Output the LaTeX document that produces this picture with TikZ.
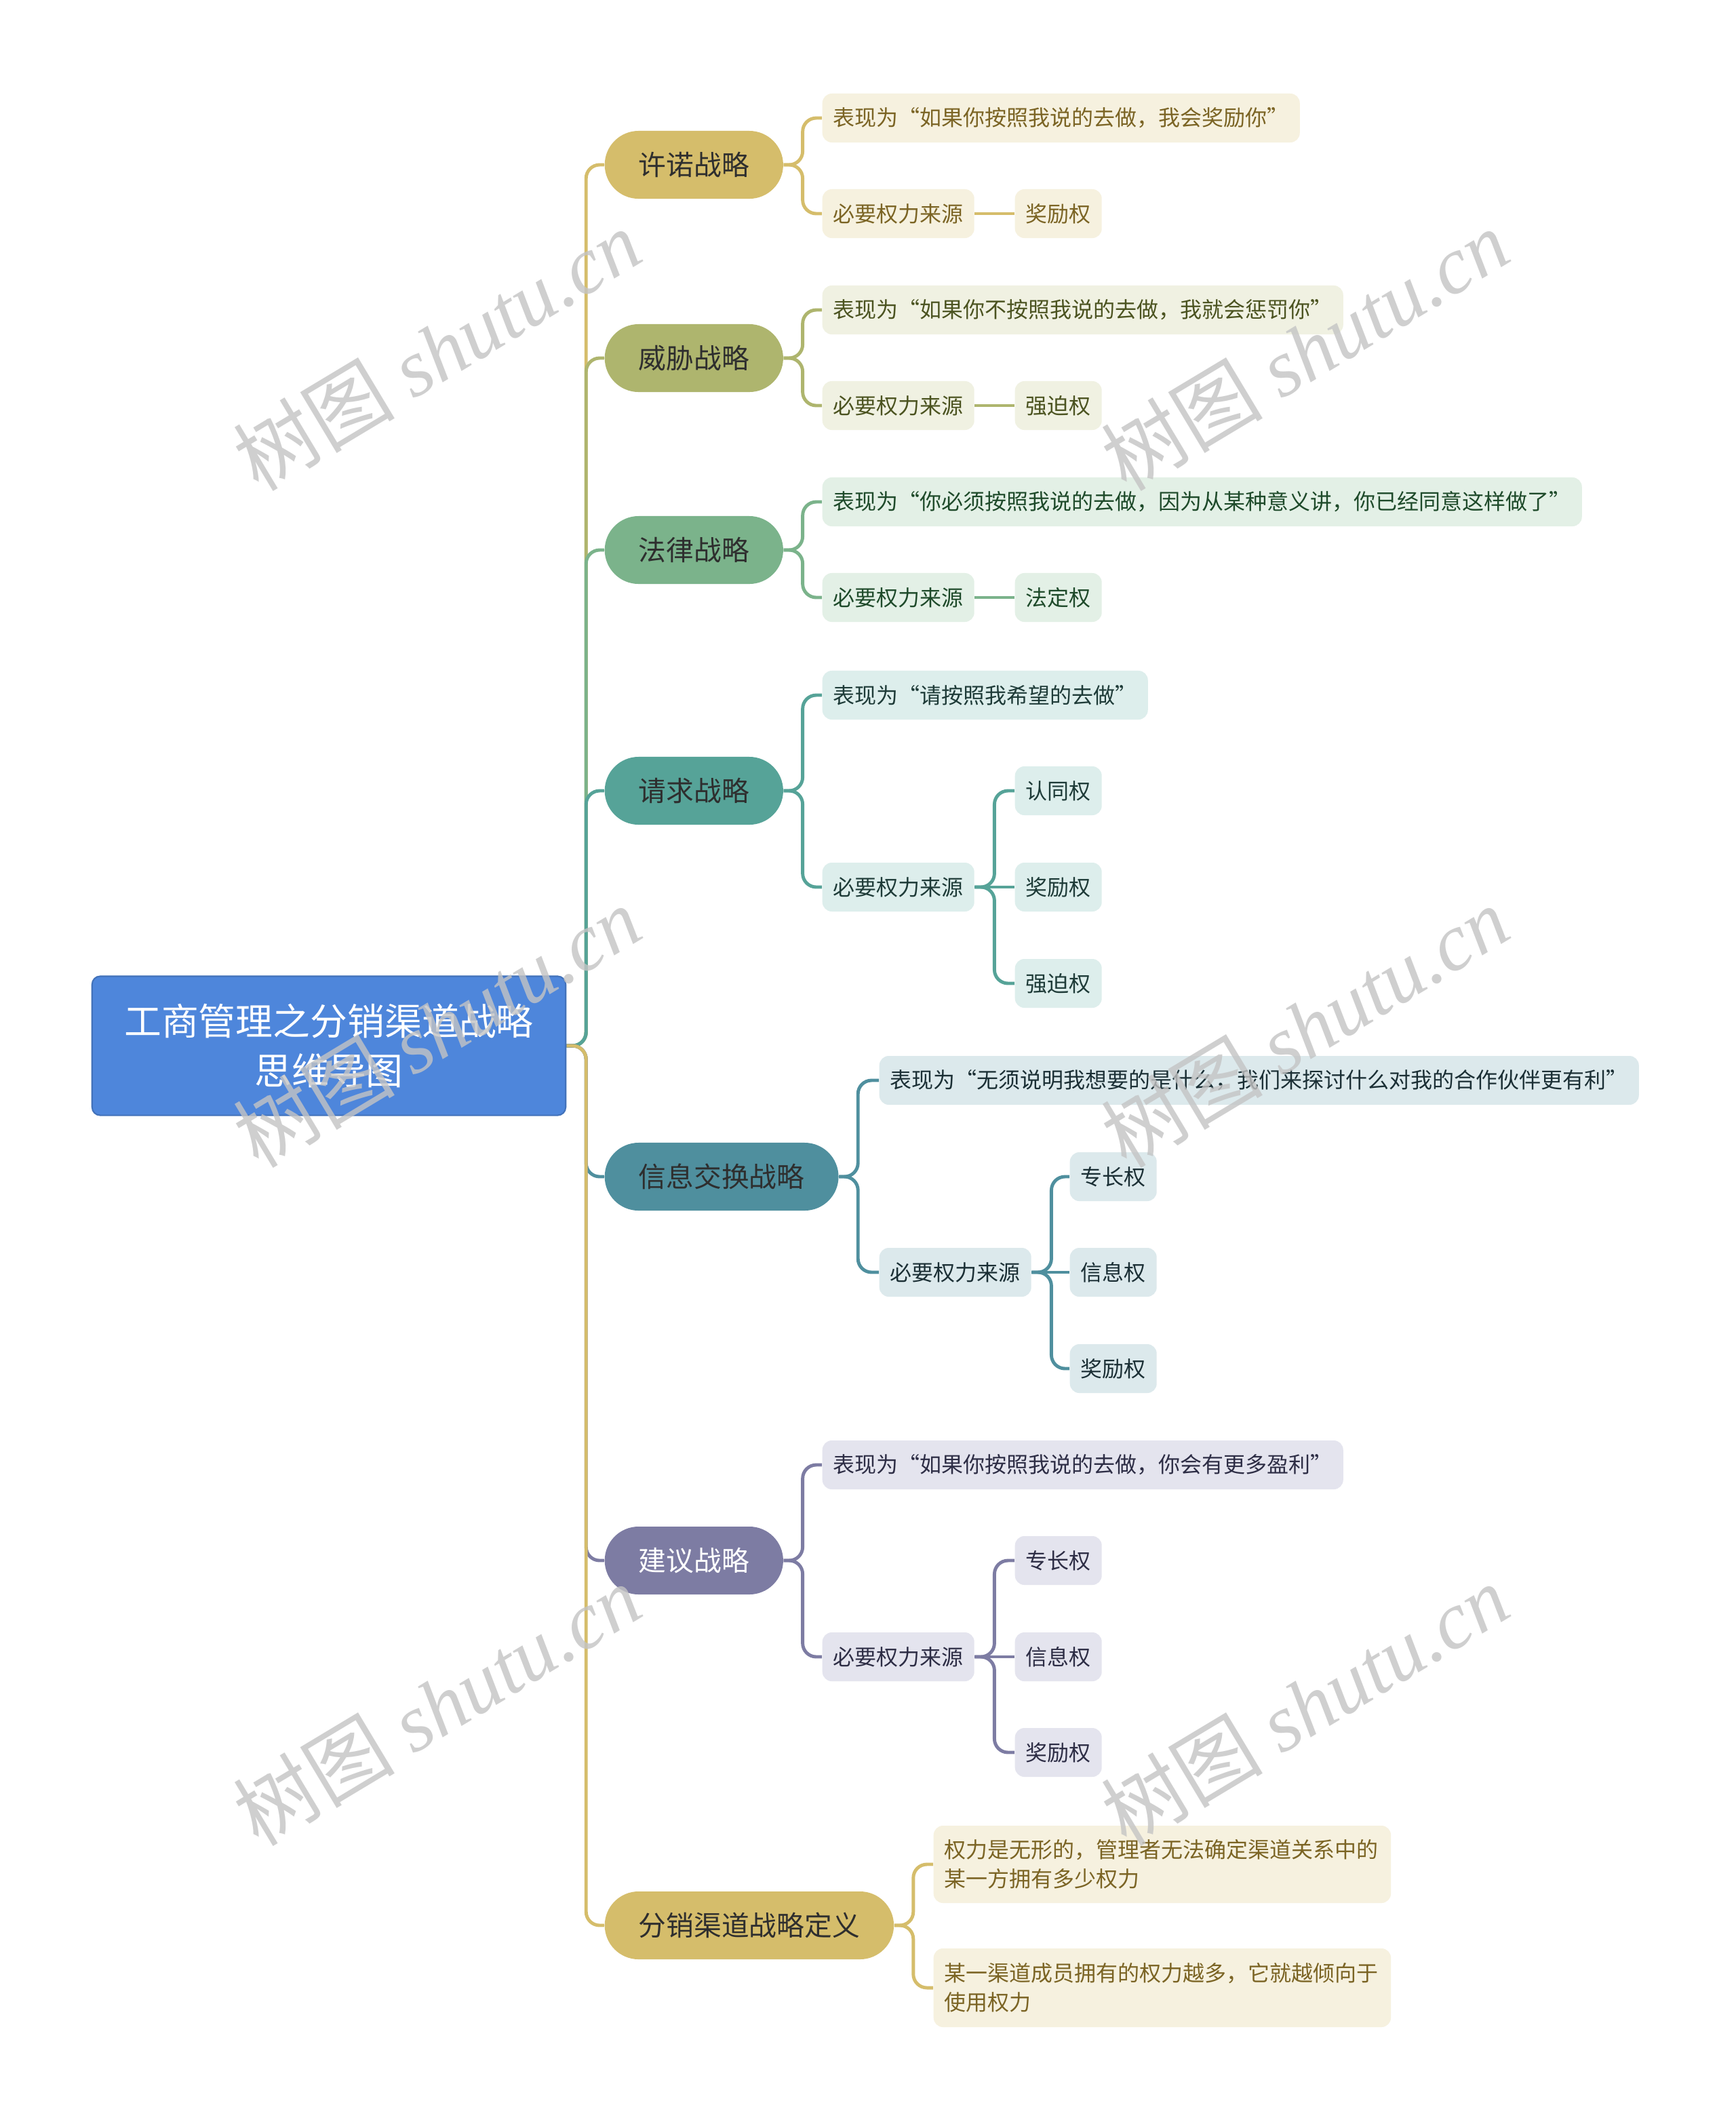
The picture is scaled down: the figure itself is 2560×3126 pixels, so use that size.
\documentclass[tikz,border=0pt]{standalone}
\usepackage{fontspec}
\setmainfont{Noto Sans CJK SC}
\newfontfamily\wmlatin{Liberation Serif}
\usetikzlibrary{backgrounds}
\definecolor{rootblue}{HTML}{4E86DB}
\definecolor{cGold}{HTML}{D5BD6B}
\definecolor{cOlive}{HTML}{AEB56E}
\definecolor{cGreen}{HTML}{7BB38B}
\definecolor{cTeal}{HTML}{56A398}
\definecolor{cTB}{HTML}{4F8F9E}
\definecolor{cPurple}{HTML}{7D7CA3}
\definecolor{lGold}{HTML}{F6F1DF}
\definecolor{lOlive}{HTML}{F0F1E2}
\definecolor{lGreen}{HTML}{E3F0E6}
\definecolor{lTeal}{HTML}{DDEEEC}
\definecolor{lTB}{HTML}{DCE9EC}
\definecolor{lPurple}{HTML}{E4E4EE}
\definecolor{tGold}{HTML}{7B6424}
\definecolor{tOlive}{HTML}{4B5320}
\definecolor{tGreen}{HTML}{1E4A2A}
\definecolor{tTeal}{HTML}{1E3B38}
\definecolor{tTB}{HTML}{1B2F35}
\definecolor{tPurple}{HTML}{2D2D45}
\definecolor{tDark}{HTML}{2E2E2E}
\definecolor{wm}{HTML}{C4C4C4}
\begin{document}
\begin{tikzpicture}[x=0.01cm,y=-0.01cm,
  rootbox/.style={fill=rootblue, draw=rootblue!85!black, line width=0.6pt, rounded corners=0.12cm, text=white,
    font=\fontsize{15.6}{21}\selectfont, align=center, minimum width=6.98cm, minimum height=2.05cm, inner sep=0pt},
  branch/.style={rounded corners=0.5cm, minimum height=1cm, inner xsep=0.5cm, inner ysep=0pt,
    font=\fontsize{11.6}{14}\selectfont, anchor=west, text=tDark},
  leaf/.style={rounded corners=0.14cm, minimum height=0.72cm, inner xsep=0.16cm, inner ysep=0pt,
    font=\fontsize{9.1}{11.9}\selectfont, anchor=west},
  leafG/.style={leaf, fill=lGold, text=tGold},
  leafO/.style={leaf, fill=lOlive, text=tOlive},
  leafN/.style={leaf, fill=lGreen, text=tGreen},
  leafT/.style={leaf, fill=lTeal, text=tTeal},
  leafB/.style={leaf, fill=lTB, text=tTB},
  leafP/.style={leaf, fill=lPurple, text=tPurple},
  conn/.style={line width=1.4pt, rounded corners=0.2cm},
  wmark/.style={text=wm, rotate=31, font=\fontsize{34}{40}\selectfont, opacity=0.8}
]
\useasboundingbox (0,0) rectangle (2560,3126);

% root
\node[rootbox] (root) at (485,1542) {工商管理之分销渠道战略\\思维导图};

% branches
\node[branch, fill=cGold] (b1) at (891,243) {许诺战略};
\node[branch, fill=cOlive] (b2) at (891,528) {威胁战略};
\node[branch, fill=cGreen] (b3) at (891,811) {法律战略};
\node[branch, fill=cTeal] (b4) at (891,1166) {请求战略};
\node[branch, fill=cTB] (b5) at (891,1735) {信息交换战略};
\node[branch, fill=cPurple, text=white] (b6) at (891,2301) {建议战略};
\node[branch, fill=cGold] (b7) at (891,2839) {分销渠道战略定义};

% b1
\node[leafG] (l11) at (1212,174) {表现为“如果你按照我说的去做，我会奖励你”};
\node[leafG] (l12) at (1212,315) {必要权力来源};
\node[leafG] (l121) at (1496,315) {奖励权};
% b2
\node[leafO] (l21) at (1212,457) {表现为“如果你不按照我说的去做，我就会惩罚你”};
\node[leafO] (l22) at (1212,598) {必要权力来源};
\node[leafO] (l221) at (1496,598) {强迫权};
% b3
\node[leafN] (l31) at (1212,740) {表现为“你必须按照我说的去做，因为从某种意义讲，你已经同意这样做了”};
\node[leafN] (l32) at (1212,881) {必要权力来源};
\node[leafN] (l321) at (1496,881) {法定权};
% b4
\node[leafT] (l41) at (1212,1025) {表现为“请按照我希望的去做”};
\node[leafT] (l42) at (1212,1308) {必要权力来源};
\node[leafT] (l421) at (1496,1166) {认同权};
\node[leafT] (l422) at (1496,1308) {奖励权};
\node[leafT] (l423) at (1496,1450) {强迫权};
% b5
\node[leafB] (l51) at (1296,1593) {表现为“无须说明我想要的是什么，我们来探讨什么对我的合作伙伴更有利”};
\node[leafB] (l52) at (1296,1876) {必要权力来源};
\node[leafB] (l521) at (1577,1735) {专长权};
\node[leafB] (l522) at (1577,1876) {信息权};
\node[leafB] (l523) at (1577,2018) {奖励权};
% b6
\node[leafP] (l61) at (1212,2160) {表现为“如果你按照我说的去做，你会有更多盈利”};
\node[leafP] (l62) at (1212,2443) {必要权力来源};
\node[leafP] (l621) at (1496,2301) {专长权};
\node[leafP] (l622) at (1496,2443) {信息权};
\node[leafP] (l623) at (1496,2584) {奖励权};
% b7
\node[leafG, text width=6.42cm, align=left, minimum height=1.14cm, font=\fontsize{9.1}{12.1}\selectfont] (l71) at (1376,2749) {权力是无形的，管理者无法确定渠道关系中的\\某一方拥有多少权力};
\node[leafG, text width=6.42cm, align=left, minimum height=1.16cm, font=\fontsize{9.1}{12.1}\selectfont] (l72) at (1376,2931) {某一渠道成员拥有的权力越多，它就越倾向于\\使用权力};

\begin{scope}[on background layer]
\fill[white] (0,0) rectangle (2560,3126);
\draw[conn, cGold] (root.east) -- ++(29,0) |- (b1.west);
\draw[conn, cOlive] (root.east) -- ++(29,0) |- (b2.west);
\draw[conn, cGreen] (root.east) -- ++(29,0) |- (b3.west);
\draw[conn, cTeal] (root.east) -- ++(29,0) |- (b4.west);
\draw[conn, cTB] (root.east) -- ++(29,0) |- (b5.west);
\draw[conn, cPurple] (root.east) -- ++(29,0) |- (b6.west);
\draw[conn, cGold] (root.east) -- ++(29,0) |- (b7.west);

\draw[conn, cGold] (b1.east) -- ++(28,0) |- (l11.west);
\draw[conn, cGold] (b1.east) -- ++(28,0) |- (l12.west);
\draw[conn, cGold] (l12.east) -- (l121.west);

\draw[conn, cOlive] (b2.east) -- ++(28,0) |- (l21.west);
\draw[conn, cOlive] (b2.east) -- ++(28,0) |- (l22.west);
\draw[conn, cOlive] (l22.east) -- (l221.west);

\draw[conn, cGreen] (b3.east) -- ++(28,0) |- (l31.west);
\draw[conn, cGreen] (b3.east) -- ++(28,0) |- (l32.west);
\draw[conn, cGreen] (l32.east) -- (l321.west);

\draw[conn, cTeal] (b4.east) -- ++(28,0) |- (l41.west);
\draw[conn, cTeal] (b4.east) -- ++(28,0) |- (l42.west);
\draw[conn, cTeal] (l42.east) -- ++(29,0) |- (l421.west);
\draw[conn, cTeal] (l42.east) -- (l422.west);
\draw[conn, cTeal] (l42.east) -- ++(29,0) |- (l423.west);

\draw[conn, cTB] (b5.east) -- ++(28,0) |- (l51.west);
\draw[conn, cTB] (b5.east) -- ++(28,0) |- (l52.west);
\draw[conn, cTB] (l52.east) -- ++(29,0) |- (l521.west);
\draw[conn, cTB] (l52.east) -- (l522.west);
\draw[conn, cTB] (l52.east) -- ++(29,0) |- (l523.west);

\draw[conn, cPurple] (b6.east) -- ++(28,0) |- (l61.west);
\draw[conn, cPurple] (b6.east) -- ++(28,0) |- (l62.west);
\draw[conn, cPurple] (l62.east) -- ++(29,0) |- (l621.west);
\draw[conn, cPurple] (l62.east) -- (l622.west);
\draw[conn, cPurple] (l62.east) -- ++(29,0) |- (l623.west);

\draw[conn, cGold] (b7.east) -- ++(28,0) |- (l71.west);
\draw[conn, cGold] (b7.east) -- ++(28,0) |- (l72.west);
\end{scope}

% watermarks
\node[wmark] (w1) at (644,516) {树图 {\wmlatin\itshape shutu.cn}};
\node[wmark] (w2) at (1924,516) {树图 {\wmlatin\itshape shutu.cn}};
\node[wmark] (w3) at (644,1514) {树图 {\wmlatin\itshape shutu.cn}};
\node[wmark] (w4) at (1924,1514) {树图 {\wmlatin\itshape shutu.cn}};
\node[wmark] (w5) at (644,2514) {树图 {\wmlatin\itshape shutu.cn}};
\node[wmark] (w6) at (1924,2514) {树图 {\wmlatin\itshape shutu.cn}};
\end{tikzpicture}
\end{document}
